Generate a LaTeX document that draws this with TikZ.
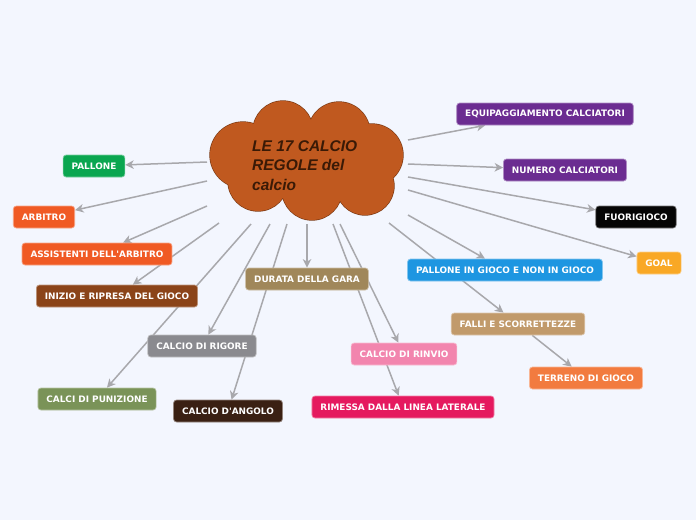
\documentclass[tikz,border=0pt]{standalone}
\usepackage{fontspec}
\setmainfont{DejaVu Sans}
\newfontfamily\cloudfont{Liberation Sans}
\usetikzlibrary{arrows.meta}

\pgfdeclarelayer{paper}
\pgfdeclarelayer{links}
\pgfsetlayers{paper,links,main}

\definecolor{bgcol}{HTML}{F3F6FE}
\definecolor{linkgray}{HTML}{A8A8AC}
\definecolor{cloudfill}{HTML}{C0591F}
\definecolor{clouddraw}{HTML}{7A3812}
\definecolor{cloudtext}{HTML}{3A1A06}
\definecolor{cGreen}{HTML}{0AA650}
\definecolor{cRed}{HTML}{F05A24}
\definecolor{cBrown}{HTML}{8B4419}
\definecolor{cKhaki}{HTML}{A0875A}
\definecolor{cGray}{HTML}{8A8A8F}
\definecolor{cOlive}{HTML}{7A9358}
\definecolor{cDark}{HTML}{3A2013}
\definecolor{cPink}{HTML}{F285AE}
\definecolor{cCrimson}{HTML}{E5195F}
\definecolor{cBlue}{HTML}{1E96E1}
\definecolor{cTan}{HTML}{C19A6B}
\definecolor{cOrange}{HTML}{F27B3F}
\definecolor{cPurple}{HTML}{6B2C91}
\definecolor{cBlack}{HTML}{050505}
\definecolor{cAmber}{HTML}{F9A825}

\tikzset{
  topic/.style={fill=#1, draw=#1!55!white, line width=0.7pt, rounded corners=3pt,
    text=white, font=\fontsize{8.9}{10}\selectfont\bfseries,
    minimum height=22pt, inner xsep=8.5pt, inner ysep=0pt},
  link/.style={draw=linkgray, line width=1.5pt, -{Stealth[length=8.5pt,width=8.5pt,inset=2.5pt]}}
}

\begin{document}
\begin{tikzpicture}[x=1pt, y=-1pt]
  \begin{pgfonlayer}{paper}
    \fill[bgcol] (0,0) rectangle (696,520);
  \end{pgfonlayer}
  \useasboundingbox (0,0) rectangle (696,520);

  % cloud
  \foreach \cx/\cy/\r in {283/131/30, 339/133/31, 372/155/31, 365/186/29,
                          312/190/30, 258/181/30, 243/155/33}
    \draw[clouddraw, line width=1.3pt] (\cx,\cy) circle (\r);
  \foreach \cx/\cy/\r in {283/131/30, 339/133/31, 372/155/31, 365/186/29,
                          312/190/30, 258/181/30, 243/155/33}
    \fill[cloudfill] (\cx,\cy) circle (\r);
  \fill[cloudfill] (307,160) ellipse (70 and 40);
  \node[anchor=north west, inner sep=0pt, align=left, text=cloudtext,
        font=\cloudfont\fontsize{15.5}{19.5}\selectfont\bfseries\itshape]
        (title) at (252,140) {LE 17 CALCIO\\REGOLE del\\calcio};

  % topics
  \node[topic=cGreen]   (pallone)   at (94,166)  {PALLONE};
  \node[topic=cRed]     (arbitro)   at (44,217)  {ARBITRO};
  \node[topic=cRed]     (assist)    at (97,254)  {ASSISTENTI DELL\textquotesingle ARBITRO};
  \node[topic=cBrown]   (inizio)    at (117,296) {INIZIO E RIPRESA DEL GIOCO};
  \node[topic=cOlive]   (punizione) at (97,399)  {CALCI DI PUNIZIONE};
  \node[topic=cGray]    (rigore)    at (202,346) {CALCIO DI RIGORE};
  \node[topic=cDark]    (angolo)    at (228,411) {CALCIO D\textquotesingle ANGOLO};
  \node[topic=cKhaki]   (durata)    at (307,279) {DURATA DELLA GARA};
  \node[topic=cCrimson] (rimessa)   at (403,407) {RIMESSA DALLA LINEA LATERALE};
  \node[topic=cPink]    (rinvio)    at (404,354) {CALCIO DI RINVIO};
  \node[topic=cTan]     (falli)     at (518,324) {FALLI E SCORRETTEZZE};
  \node[topic=cOrange]  (terreno)   at (586,378) {TERRENO DI GIOCO};
  \node[topic=cBlue]    (ingioco)   at (505,270) {PALLONE IN GIOCO E NON IN GIOCO};
  \node[topic=cAmber]   (goal)      at (659,263) {GOAL};
  \node[topic=cBlack]   (fuori)     at (636,217) {FUORIGIOCO};
  \node[topic=cPurple]  (numero)    at (565,170) {NUMERO CALCIATORI};
  \node[topic=cPurple]  (equip)     at (545,114) {EQUIPAGGIAMENTO CALCIATORI};

  % start points round the cloud
  \coordinate (s1)  at (207,162);
  \coordinate (s2)  at (207,181);
  \coordinate (s3)  at (207,206);
  \coordinate (s4)  at (219,223);
  \coordinate (s5)  at (251,224);
  \coordinate (s6)  at (270,224);
  \coordinate (s7)  at (287,224);
  \coordinate (s8)  at (307,224);
  \coordinate (s9)  at (333,224);
  \coordinate (s10) at (340,224);
  \coordinate (s11) at (389,223);
  \coordinate (s12) at (408,215);
  \coordinate (s13) at (408,190);
  \coordinate (s14) at (408,177);
  \coordinate (s15) at (408,164);
  \coordinate (s16) at (408,140);

  % links, kept under the boxes
  \begin{pgfonlayer}{links}
    \draw[link] (s1)  -- (pallone);
    \draw[link] (s2)  -- (arbitro);
    \draw[link] (s3)  -- (assist);
    \draw[link] (s4)  -- (inizio);
    \draw[link] (s5)  -- (punizione);
    \draw[link] (s6)  -- (rigore);
    \draw[link] (s7)  -- (angolo);
    \draw[link] (s8)  -- (durata);
    \draw[link] (s9)  -- (rimessa);
    \draw[link] (s10) -- (rinvio);
    \draw[link] (s11) -- (falli);
    \draw[link] (s12) -- (ingioco);
    \draw[link] (s13) -- (goal);
    \draw[link] (s14) -- (fuori);
    \draw[link] (s15) -- (numero);
    \draw[link] (s16) -- (equip);
    \draw[link] (falli) -- (terreno);
  \end{pgfonlayer}
\end{tikzpicture}
\end{document}
